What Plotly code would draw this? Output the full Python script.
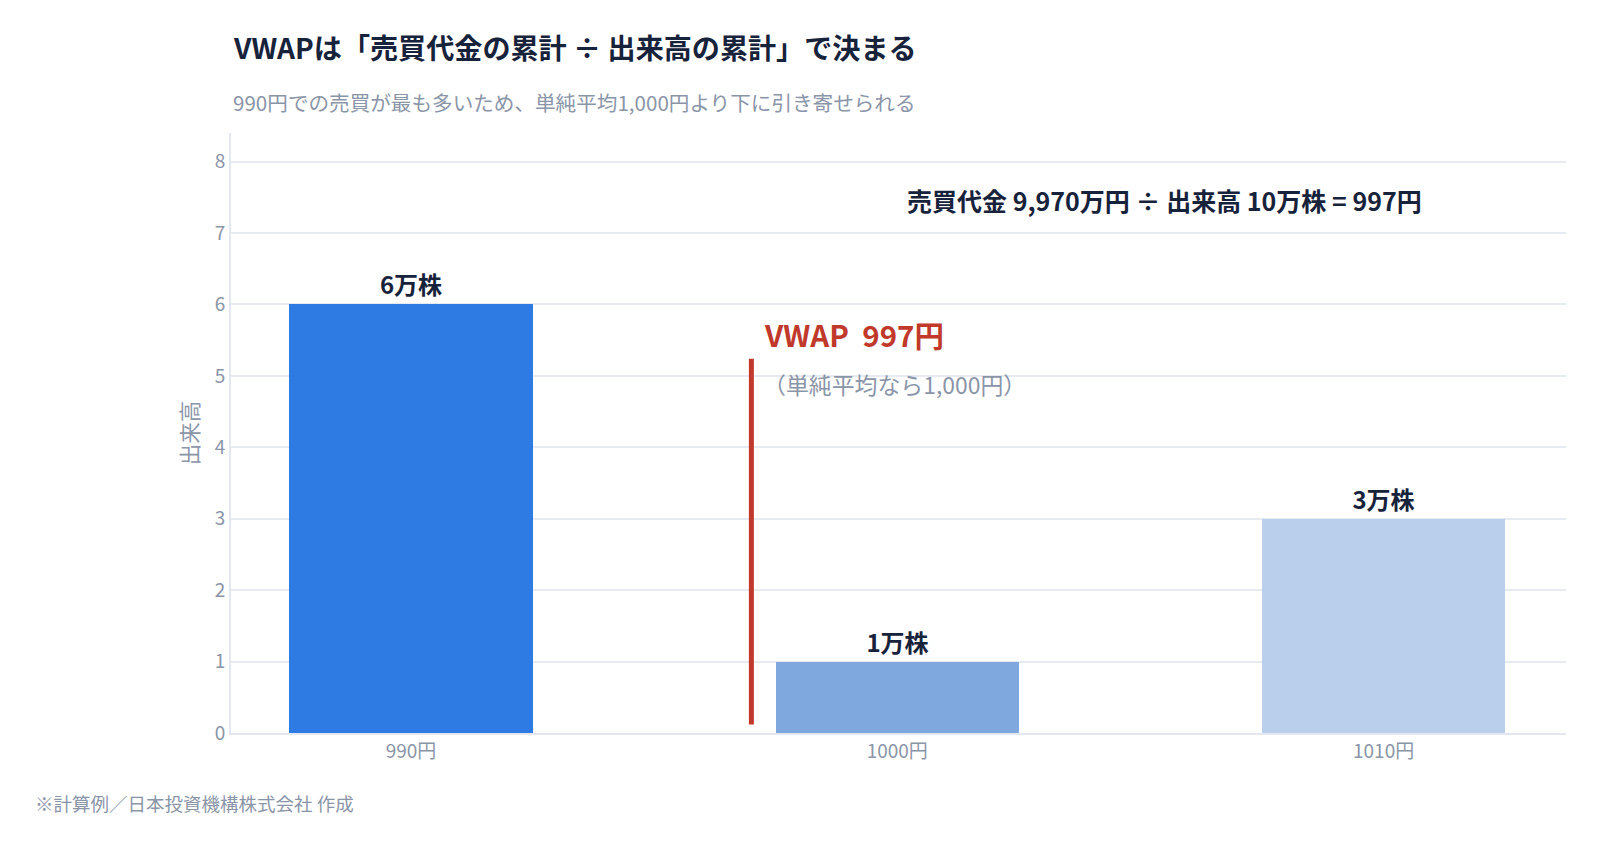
import plotly.graph_objects as go

# ---- data ----
prices = [990, 1000, 1010]
volumes = [6, 1, 3]
bar_labels = ["6万株", "1万株", "3万株"]
tick_text = ["990円", "1000円", "1010円"]
bar_colors = ["#2d7be3", "#7fa8de", "#b9cfeb"]
vwap_price = 997
vwap_line_y = [0.12, 5.24]

title_text = "VWAPは「売買代金の累計 ÷ 出来高の累計」で決まる"
subtitle_text = "990円での売買が最も多いため、単純平均1,000円より下に引き寄せられる"
formula_text = "売買代金 9,970万円 ÷ 出来高 10万株 = 997円"
vwap_text = "VWAP  997円"
simple_text = "（単純平均なら1,000円）"
footer_text = "※計算例／日本投資機構株式会社 作成"
y_title = "出来高"

FONT = "Noto Sans CJK JP"
NAVY = "#17223b"
GRAY = "#8b95a8"
RED = "#c0392b"

fig = go.Figure()
fig.add_trace(go.Bar(
    x=prices, y=volumes, width=5,
    marker=dict(color=bar_colors, line=dict(width=0)),
    text=["<b>%s</b>" % t for t in bar_labels],
    textposition="outside",
    textfont=dict(family=FONT, size=24, color=NAVY),
    cliponaxis=False,
    hoverinfo="skip",
))
fig.add_trace(go.Scatter(
    x=[vwap_price, vwap_price], y=vwap_line_y,
    mode="lines", line=dict(color=RED, width=5),
    hoverinfo="skip",
))

annotations = [
    dict(text="<b>%s</b>" % title_text, xref="paper", yref="paper", x=0, y=1.1445,
         xanchor="left", yanchor="middle", showarrow=False,
         font=dict(family=FONT, size=28.1, color=NAVY)),
    dict(text=subtitle_text, xref="paper", yref="paper", x=0, y=1.051,
         xanchor="left", yanchor="middle", showarrow=False,
         font=dict(family=FONT, size=20.6, color=GRAY)),
    dict(text="<b>%s</b>" % formula_text, xref="x", yref="y", x=1005.5, y=7.46,
         xanchor="center", yanchor="middle", showarrow=False,
         font=dict(family=FONT, size=25, color=NAVY)),
    dict(text="<b>%s</b>" % vwap_text, xref="x", yref="y", x=vwap_price, y=5.59,
         xanchor="left", yanchor="middle", xshift=11, showarrow=False,
         font=dict(family=FONT, size=29.5, color=RED)),
    dict(text=simple_text, xref="x", yref="y", x=vwap_price, y=4.89,
         xanchor="left", yanchor="middle", xshift=10, showarrow=False,
         font=dict(family=FONT, size=22.9, color=GRAY)),
    dict(text=footer_text, xref="paper", yref="paper", x=-0.148, y=-0.117,
         xanchor="left", yanchor="middle", showarrow=False,
         font=dict(family=FONT, size=18.5, color=GRAY)),
]

fig.update_layout(
    width=1600, height=848,
    margin=dict(l=230.6, r=34, t=132.7, b=115.3),
    paper_bgcolor="white", plot_bgcolor="white",
    showlegend=False,
    font=dict(family=FONT, color=GRAY),
    annotations=annotations,
    bargap=0,
)
fig.update_xaxes(
    range=[986.3, 1013.75],
    tickvals=prices, ticktext=tick_text,
    tickfont=dict(family=FONT, size=19, color=GRAY),
    showgrid=False, zeroline=False,
    showline=True, linecolor="#e3e7ef", linewidth=2,
    ticks="", ticklen=0,
)
fig.update_yaxes(
    range=[0, 8.4],
    tickvals=[0, 1, 2, 3, 4, 5, 6, 7, 8],
    tickfont=dict(family=FONT, size=19, color=GRAY),
    showgrid=True, gridcolor="#e6eaf1", gridwidth=1.5,
    zeroline=False,
    showline=True, linecolor="#e3e7ef", linewidth=2,
    ticks="", ticklen=0,
    title=dict(text=y_title, font=dict(family=FONT, size=21.5, color=GRAY), standoff=10),
)

fig.write_html("out.html")
